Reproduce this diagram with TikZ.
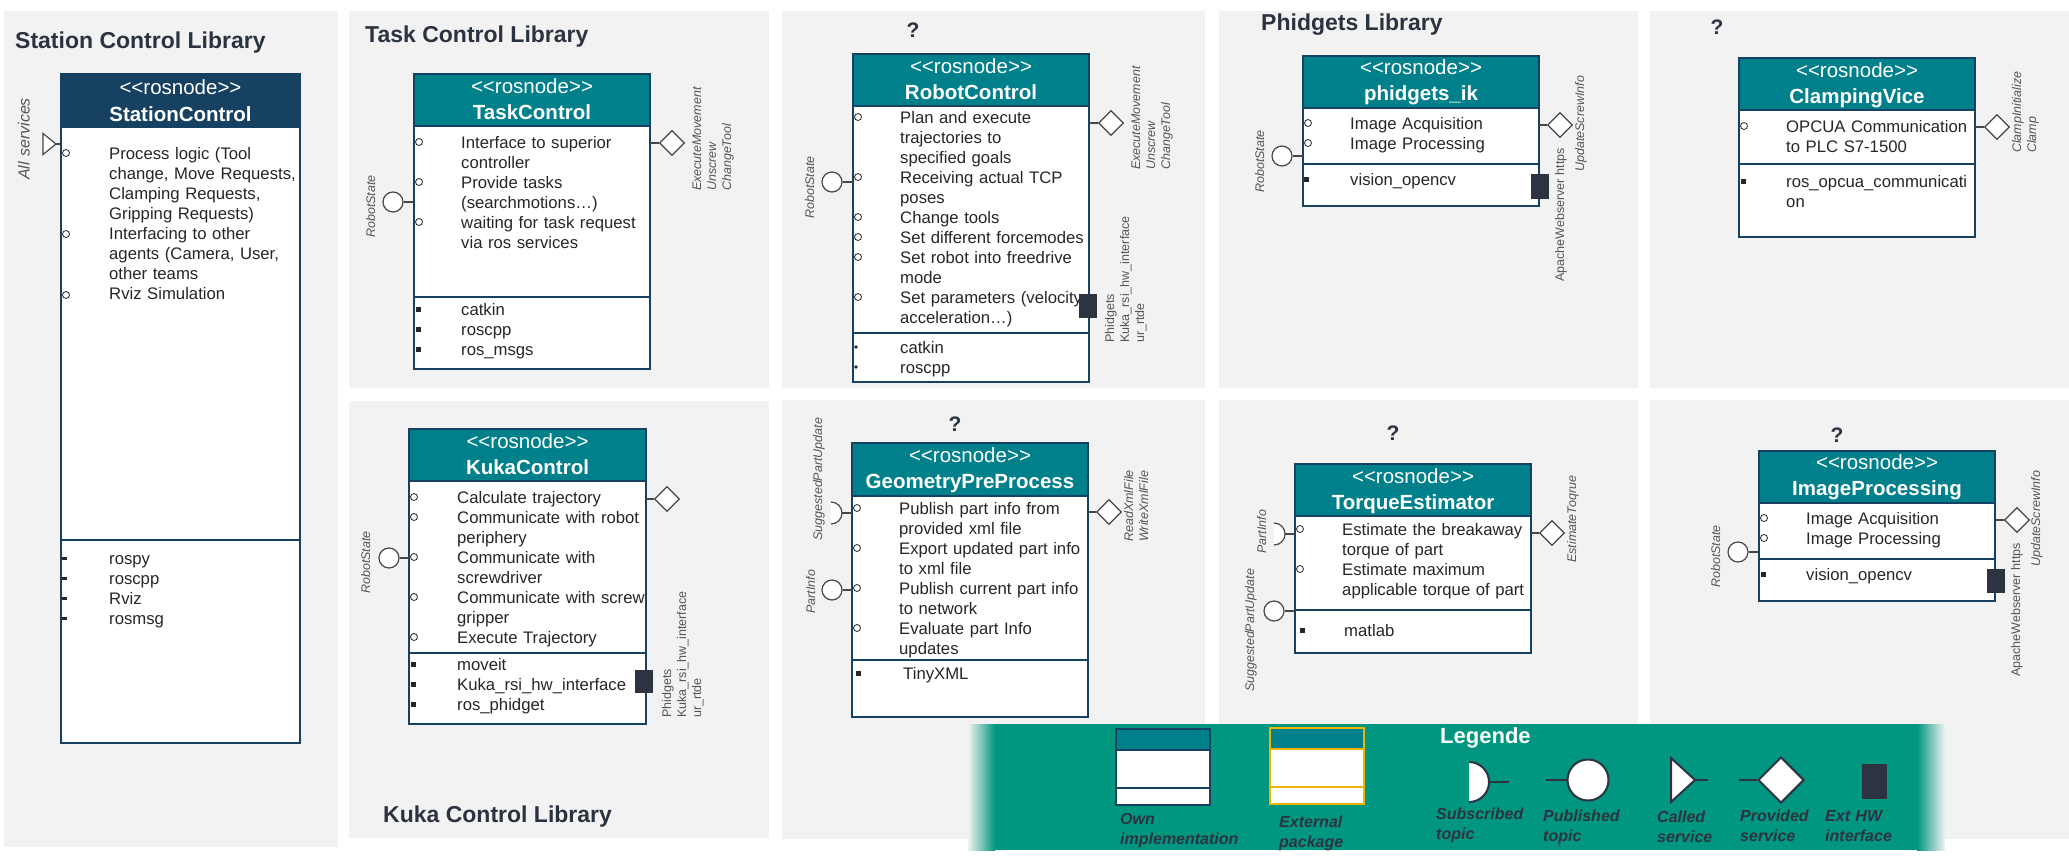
\documentclass[tikz,border=0pt]{standalone}
\usepackage{fontspec}
\setmainfont{Liberation Sans}
\usetikzlibrary{shapes.geometric}

\definecolor{panelgray}{RGB}{242,242,242}
\definecolor{boxblue}{RGB}{22,65,97}
\definecolor{headteal}{RGB}{0,128,138}
\definecolor{legteal}{RGB}{0,150,128}
\definecolor{txtdark}{RGB}{38,38,38}
\definecolor{titledark}{RGB}{43,51,64}
\definecolor{lblgray}{RGB}{85,85,85}
\definecolor{wiregray}{RGB}{70,70,70}
\definecolor{hwdark}{RGB}{45,51,64}
\definecolor{extgold}{RGB}{240,180,0}

\begin{document}
\begin{tikzpicture}[x=1pt,y=-1pt,
  panel/.style={fill=panelgray},
  ttl/.style={font=\fontsize{23}{27}\selectfont\bfseries, text=titledark, anchor=west, inner sep=0},
  qmark/.style={font=\fontsize{21}{25}\selectfont\bfseries, text=titledark, inner sep=0},
  stereo/.style={font=\fontsize{20.5}{24}\selectfont, text=white, anchor=base, inner sep=0},
  nodename/.style={font=\fontsize{20.5}{24}\selectfont\bfseries, text=white, anchor=base, inner sep=0},
  bodytxt/.style={font=\fontsize{16.7}{20}\selectfont, text=txtdark, anchor=base west, align=left, text width=240pt, inner sep=0},
  rosbox/.style={draw=boxblue, line width=2.5pt, outer sep=0, inner sep=0, anchor=north west},
  boxline/.style={draw=boxblue, line width=2.5pt},
  wire/.style={draw=wiregray, line width=1.2pt},
  obul/.style={draw=txtdark, line width=0.8pt},
  sqbul/.style={fill=txtdark},
  pubtopic/.style={circle, draw=wiregray, fill=white, line width=1.2pt, minimum size=20, inner sep=0},
  provsrv/.style={diamond, aspect=1, draw=wiregray, fill=white, line width=1.2pt, minimum size=25, inner sep=0},
  hwport/.style={fill=hwdark, minimum width=18, minimum height=24, inner sep=0},
  lbl/.style={font=\fontsize{12.5}{15}\selectfont\itshape, text=lblgray, rotate=90, anchor=base west, align=left, text width=200pt, inner sep=0},
  hwlbl/.style={lbl, font=\fontsize{12.5}{15}\selectfont},
  legwire/.style={draw=hwdark, line width=2pt},
  legtxt/.style={font=\fontsize{16}{20}\selectfont\bfseries\itshape, text=hwdark, anchor=base west, align=left, text width=130pt, inner sep=0}]

\useasboundingbox (0,0) rectangle (2069,860);
\fill[white] (0,0) rectangle (2069,860);

\fill[panel] (4,11) rectangle (338,847);
\fill[panel] (349,11) rectangle (769,388);
\fill[panel] (782,11) rectangle (1205,388);
\fill[panel] (1219,11) rectangle (1638,388);
\fill[panel] (1650,11) rectangle (2069,388);
\fill[panel] (349,401) rectangle (769,838);
\fill[panel] (782,400) rectangle (1205,839);
\fill[panel] (1219,400) rectangle (1638,839);
\fill[panel] (1650,400) rectangle (2069,839);

\node[ttl] (stc-ttl) at (15,43) {Station Control Library};
\node[ttl] (tsk-ttl) at (365,37) {Task Control Library};
\node[ttl] (phk-ttl) at (1261,25) {Phidgets Library};
\node[ttl] (kuk-ttl) at (383,817) {Kuka Control Library};
\node[qmark] (rbc-q) at (913,30) {?};
\node[qmark] (clv-q) at (1717,27) {?};
\node[qmark] (gpp-q) at (955,424) {?};
\node[qmark] (tqe-q) at (1393,433) {?};
\node[qmark] (imp-q) at (1837,435) {?};

% StationControl
\fill[white] (61,74) rectangle (300,743);
\fill[boxblue] (61,74) rectangle (300,127);
\node[rosbox, minimum width=239, minimum height=669] (stc) at (61,74) {};
\draw[boxline] (61,127) -- (300,127);
\draw[boxline] (61,540) -- (300,540);
\node[stereo] (stc-st) at (180.5,94) {<\kern0pt<rosnode>\kern0pt>};
\node[nodename] (stc-nm) at (180.5,121) {StationControl};
\node[bodytxt] (stc-txt) at (109,159) {Process logic (Tool\\change, Move Requests,\\Clamping Requests,\\Gripping Requests)\\Interfacing to other\\agents (Camera, User,\\other teams\\Rviz Simulation};
\foreach \y in {153,234,295} \draw[obul] (66,\y) circle[radius=3.5pt];
\node[bodytxt] (stc-lib) at (109,564) {rospy\\roscpp\\Rviz\\rosmsg};
\foreach \y in {558,578,598,618} \fill[sqbul] (62,\y-1.5) rectangle (67,\y+1.5);
\coordinate (stc-call) at (56,144);
\draw[wire, fill=white] (stc-call) -- ++(-13,-10.5) -- ++(0,21) -- cycle;
\draw[wire] (stc-call) -- (stc-call -| stc.west);
\node[lbl, font=\fontsize{16}{19}\selectfont\itshape] (stc-lbl) at (29.5,180) {All services};

% TaskControl
\fill[white] (414,74) rectangle (650,369);
\fill[headteal] (414,74) rectangle (650,126);
\node[rosbox, minimum width=236, minimum height=295] (tsk) at (414,74) {};
\draw[boxline] (414,126) -- (650,126);
\draw[boxline] (414,297) -- (650,297);
\node[stereo] (tsk-st) at (532,93) {<\kern0pt<rosnode>\kern0pt>};
\node[nodename] (tsk-nm) at (532,119) {TaskControl};
\node[bodytxt] (tsk-txt) at (461,148) {Interface to superior\\controller\\Provide tasks\\(searchmotions…)\\waiting for task request\\via ros services};
\foreach \y in {142,182,222} \draw[obul] (419,\y) circle[radius=3.5pt];
\node[bodytxt] (tsk-lib) at (461,315) {catkin\\roscpp\\ros\_msgs};
\foreach \y in {309,329,349} \fill[sqbul] (416,\y-2.5) rectangle (421,\y+2.5);
\node[pubtopic] (tsk-pub) at (393,202) {};
\draw[wire] (tsk-pub.east) -- (tsk-pub.east -| tsk.west);
\node[lbl] (tsk-pub-lbl) at (375,238) {RobotState};
\node[provsrv] (tsk-srv) at (672,143) {};
\draw[wire] (tsk-srv.west) -- (tsk-srv.west -| tsk.east);
\node[lbl] (tsk-srv-lbl) at (701,191) {ExecuteMovement\\Unscrew\\ChangeTool};

% RobotControl
\fill[white] (853,54) rectangle (1089,382);
\fill[headteal] (853,54) rectangle (1089,106);
\node[rosbox, minimum width=236, minimum height=328] (rbc) at (853,54) {};
\draw[boxline] (853,106) -- (1089,106);
\draw[boxline] (853,333) -- (1089,333);
\node[stereo] (rbc-st) at (971,73) {<\kern0pt<rosnode>\kern0pt>};
\node[nodename] (rbc-nm) at (971,99) {RobotControl};
\node[bodytxt] (rbc-txt) at (900,123) {Plan and execute\\trajectories to\\specified goals\\Receiving actual TCP\\poses\\Change tools\\Set different forcemodes\\Set robot into freedrive\\mode\\Set parameters (velocity\\acceleration…)};
\foreach \y in {117,177,217,237,257,297} \draw[obul] (858,\y) circle[radius=3.5pt];
\node[bodytxt] (rbc-lib) at (900,353) {catkin\\roscpp};
\foreach \y in {347,367} \fill[sqbul] (856,\y) circle[radius=1.8pt];
\node[pubtopic] (rbc-pub) at (832,182) {};
\draw[wire] (rbc-pub.east) -- (rbc-pub.east -| rbc.west);
\node[lbl] (rbc-pub-lbl) at (814,219) {RobotState};
\node[provsrv] (rbc-srv) at (1111,123) {};
\draw[wire] (rbc-srv.west) -- (rbc-srv.west -| rbc.east);
\node[lbl] (rbc-srv-lbl) at (1140,170) {ExecuteMovement\\Unscrew\\ChangeTool};
\node[hwport] (rbc-hw) at (1088,306) {};
\node[hwlbl] (rbc-hw-lbl) at (1114,343) {Phidgets\\Kuka\_rsi\_hw\_interface\\ur\_rtde};

% phidgets_ik
\fill[white] (1303,56) rectangle (1539,206);
\fill[headteal] (1303,56) rectangle (1539,108);
\node[rosbox, minimum width=236, minimum height=150] (phk) at (1303,56) {};
\draw[boxline] (1303,108) -- (1539,108);
\draw[boxline] (1303,164) -- (1539,164);
\node[stereo] (phk-st) at (1421,74) {<\kern0pt<rosnode>\kern0pt>};
\node[nodename] (phk-nm) at (1421,100) {phidgets\_ik};
\node[bodytxt] (phk-txt) at (1350,129) {Image Acquisition\\Image Processing};
\foreach \y in {123,143} \draw[obul] (1308,\y) circle[radius=3.5pt];
\node[bodytxt] (phk-lib) at (1350,185) {vision\_opencv};
\fill[sqbul] (1304,176.5) rectangle (1309,181.5);
\node[pubtopic] (phk-pub) at (1282,156) {};
\draw[wire] (phk-pub.east) -- (phk-pub.east -| phk.west);
\node[lbl] (phk-pub-lbl) at (1264,193) {RobotState};
\node[provsrv] (phk-srv) at (1560,125) {};
\draw[wire] (phk-srv.west) -- (phk-srv.west -| phk.east);
\node[lbl] (phk-srv-lbl) at (1584,172) {UpdateScrewInfo};
\node[hwport, minimum height=25] (phk-hw) at (1540,186.5) {};
\node[hwlbl] (phk-hw-lbl) at (1564,282) {ApacheWebserver https};

% ClampingVice
\fill[white] (1739,58) rectangle (1975,237);
\fill[headteal] (1739,58) rectangle (1975,110);
\node[rosbox, minimum width=236, minimum height=179] (clv) at (1739,58) {};
\draw[boxline] (1739,110) -- (1975,110);
\draw[boxline] (1739,164) -- (1975,164);
\node[stereo] (clv-st) at (1857,77) {<\kern0pt<rosnode>\kern0pt>};
\node[nodename] (clv-nm) at (1857,103) {ClampingVice};
\node[bodytxt] (clv-txt) at (1786,132) {OPCUA Communication\\to PLC S7-1500};
\draw[obul] (1744,126) circle[radius=3.5pt];
\node[bodytxt] (clv-lib) at (1786,187) {ros\_opcua\_communicati\\on};
\fill[sqbul] (1741,178.5) rectangle (1746,183.5);
\node[provsrv] (clv-srv) at (1997,127) {};
\draw[wire] (clv-srv.west) -- (clv-srv.west -| clv.east);
\node[lbl] (clv-srv-lbl) at (2021,153) {ClampInitialize\\Clamp};

% KukaControl
\fill[white] (409,429) rectangle (646,724);
\fill[headteal] (409,429) rectangle (646,481);
\node[rosbox, minimum width=237, minimum height=295] (kuk) at (409,429) {};
\draw[boxline] (409,481) -- (646,481);
\draw[boxline] (409,653) -- (646,653);
\node[stereo] (kuk-st) at (527.5,448) {<\kern0pt<rosnode>\kern0pt>};
\node[nodename] (kuk-nm) at (527.5,474) {KukaControl};
\node[bodytxt] (kuk-txt) at (457,503) {Calculate trajectory\\Communicate with robot\\periphery\\Communicate with\\screwdriver\\Communicate with screw\\gripper\\Execute Trajectory};
\foreach \y in {497,517,557,597,637} \draw[obul] (414,\y) circle[radius=3.5pt];
\node[bodytxt] (kuk-lib) at (457,670) {moveit\\Kuka\_rsi\_hw\_interface\\ros\_phidget};
\foreach \y in {664,684,704} \fill[sqbul] (411,\y-2.5) rectangle (416,\y+2.5);
\node[pubtopic] (kuk-pub) at (389,558) {};
\draw[wire] (kuk-pub.east) -- (kuk-pub.east -| kuk.west);
\node[lbl] (kuk-pub-lbl) at (370,594) {RobotState};
\node[provsrv] (kuk-srv) at (667,499) {};
\draw[wire] (kuk-srv.west) -- (kuk-srv.west -| kuk.east);
\node[hwport, minimum height=23] (kuk-hw) at (644,681.5) {};
\node[hwlbl] (kuk-hw-lbl) at (671,718) {Phidgets\\Kuka\_rsi\_hw\_interface\\ur\_rtde};

% GeometryPreProcess
\fill[white] (852,443) rectangle (1088,717);
\fill[headteal] (852,443) rectangle (1088,496);
\node[rosbox, minimum width=236, minimum height=274] (gpp) at (852,443) {};
\draw[boxline] (852,496) -- (1088,496);
\draw[boxline] (852,660) -- (1088,660);
\node[stereo] (gpp-st) at (970,462) {<\kern0pt<rosnode>\kern0pt>};
\node[nodename] (gpp-nm) at (970,488) {GeometryPreProcess};
\node[bodytxt] (gpp-txt) at (899,514) {Publish part info from\\provided xml file\\Export updated part info\\to xml file\\Publish current part info\\to network\\Evaluate part Info\\updates};
\foreach \y in {508,548,588,628} \draw[obul] (857,\y) circle[radius=3.5pt];
\node[bodytxt] (gpp-lib) at (903,679) {TinyXML};
\fill[sqbul] (856,670.5) rectangle (861,675.5);
\coordinate (gpp-sub) at (842,513);
\draw[wire, fill=white] (831,502) arc[start angle=90, end angle=-90, radius=11pt];
\draw[wire] (gpp-sub) -- (gpp-sub -| gpp.west);
\node[lbl] (gpp-sub-lbl) at (822,541) {SuggestedPartUpdate};
\node[pubtopic] (gpp-pub) at (832,590) {};
\draw[wire] (gpp-pub.east) -- (gpp-pub.east -| gpp.west);
\node[lbl] (gpp-pub-lbl) at (815,614) {PartInfo};
\node[provsrv] (gpp-srv) at (1109,512) {};
\draw[wire] (gpp-srv.west) -- (gpp-srv.west -| gpp.east);
\node[lbl] (gpp-srv-lbl) at (1133,542) {ReadXmlFile\\WriteXmlFile};

% TorqueEstimator
\fill[white] (1295,464) rectangle (1531,653);
\fill[headteal] (1295,464) rectangle (1531,516);
\node[rosbox, minimum width=236, minimum height=189] (tqe) at (1295,464) {};
\draw[boxline] (1295,516) -- (1531,516);
\draw[boxline] (1295,610) -- (1531,610);
\node[stereo] (tqe-st) at (1413,483) {<\kern0pt<rosnode>\kern0pt>};
\node[nodename] (tqe-nm) at (1413,509) {TorqueEstimator};
\node[bodytxt] (tqe-txt) at (1342,535) {Estimate the breakaway\\torque of part\\Estimate maximum\\applicable torque of part};
\foreach \y in {529,569} \draw[obul] (1300,\y) circle[radius=3.5pt];
\node[bodytxt] (tqe-lib) at (1344,636) {matlab};
\fill[sqbul] (1300,627.5) rectangle (1305,632.5);
\coordinate (tqe-sub) at (1285,534);
\draw[wire, fill=white] (1274,523) arc[start angle=90, end angle=-90, radius=11pt];
\draw[wire] (tqe-sub) -- (tqe-sub -| tqe.west);
\node[lbl] (tqe-sub-lbl) at (1266,554) {PartInfo};
\node[pubtopic] (tqe-pub) at (1274,611) {};
\draw[wire] (tqe-pub.east) -- (tqe-pub.east -| tqe.west);
\node[lbl] (tqe-pub-lbl) at (1254,692) {SuggestedPartUpdate};
\node[provsrv] (tqe-srv) at (1552,533) {};
\draw[wire] (tqe-srv.west) -- (tqe-srv.west -| tqe.east);
\node[lbl] (tqe-srv-lbl) at (1576,563) {EstimateToqrue};

% ImageProcessing
\fill[white] (1759,451) rectangle (1995,601);
\fill[headteal] (1759,451) rectangle (1995,503);
\node[rosbox, minimum width=236, minimum height=150] (imp) at (1759,451) {};
\draw[boxline] (1759,503) -- (1995,503);
\draw[boxline] (1759,559) -- (1995,559);
\node[stereo] (imp-st) at (1877,469) {<\kern0pt<rosnode>\kern0pt>};
\node[nodename] (imp-nm) at (1877,495) {ImageProcessing};
\node[bodytxt] (imp-txt) at (1806,524) {Image Acquisition\\Image Processing};
\foreach \y in {518,538} \draw[obul] (1764,\y) circle[radius=3.5pt];
\node[bodytxt] (imp-lib) at (1806,580) {vision\_opencv};
\fill[sqbul] (1761,571.5) rectangle (1766,576.5);
\node[pubtopic] (imp-pub) at (1738,552) {};
\draw[wire] (imp-pub.east) -- (imp-pub.east -| imp.west);
\node[lbl] (imp-pub-lbl) at (1720,588) {RobotState};
\node[provsrv] (imp-srv) at (2017,520) {};
\draw[wire] (imp-srv.west) -- (imp-srv.west -| imp.east);
\node[lbl] (imp-srv-lbl) at (2040,567) {UpdateScrewInfo};
\node[hwport] (imp-hw) at (1996,581) {};
\node[hwlbl] (imp-hw-lbl) at (2020,677) {ApacheWebserver https};

% Legende
\shade[left color=panelgray, right color=legteal] (968,724) rectangle (995,850);
\fill[legteal] (995,724) rectangle (1917,850);
\shade[left color=legteal, right color=panelgray] (1917,724) rectangle (1945,850);
\node[font=\fontsize{22}{26}\selectfont\bfseries, text=white, anchor=west, inner sep=0] (leg-ttl) at (1440,738) {Legende};

\fill[white] (1116,729) rectangle (1210,805);
\fill[headteal] (1116,729) rectangle (1210,750);
\node[draw=boxblue, line width=1.5pt, anchor=north west, minimum width=94, minimum height=76, inner sep=0, outer sep=0] (leg-own) at (1116,729) {};
\draw[boxblue, line width=1.5pt] (1116,750) -- (1210,750) (1116,788) -- (1210,788);
\node[legtxt] (leg-own-t) at (1120,824) {Own\\implementation};

\fill[white] (1270,728) rectangle (1364,804);
\fill[headteal] (1270,728) rectangle (1364,749);
\node[draw=extgold, line width=1.5pt, anchor=north west, minimum width=94, minimum height=76, inner sep=0, outer sep=0] (leg-ext) at (1270,728) {};
\draw[extgold, line width=1.5pt] (1270,749) -- (1364,749) (1270,787) -- (1364,787);
\node[legtxt] (leg-ext-t) at (1279,827) {External\\package};

\coordinate (leg-sub) at (1489,782);
\coordinate (leg-sub-end) at (1509,782);
\draw[legwire, fill=white] (1469,762) arc[start angle=90, end angle=-90, radius=20pt];
\draw[legwire] (leg-sub) -- (leg-sub-end);
\node[legtxt] (leg-sub-t) at (1436,819) {Subscribed\\topic};

\node[pubtopic, legwire, minimum size=41] (leg-pub) at (1588,780) {};
\coordinate (leg-pub-end) at (1546,780);
\draw[legwire] (leg-pub-end) -- (leg-pub.west);
\node[legtxt] (leg-pub-t) at (1543,821) {Published\\topic};

\coordinate (leg-call) at (1695,780);
\coordinate (leg-call-end) at (1708,780);
\draw[legwire, fill=white] (leg-call) -- ++(-24,-22) -- ++(0,44) -- cycle;
\draw[legwire] (leg-call) -- (leg-call-end);
\node[legtxt] (leg-call-t) at (1657,822) {Called\\service};

\node[provsrv, legwire, minimum size=46] (leg-prov) at (1781,780) {};
\coordinate (leg-prov-end) at (1739,780);
\draw[legwire] (leg-prov-end) -- (leg-prov.west);
\node[legtxt] (leg-prov-t) at (1740,821) {Provided\\service};

\node[hwport, minimum width=25, minimum height=35] (leg-hw) at (1874.5,781.5) {};
\node[legtxt] (leg-hw-t) at (1825,821) {Ext HW\\interface};
\end{tikzpicture}
\end{document}
